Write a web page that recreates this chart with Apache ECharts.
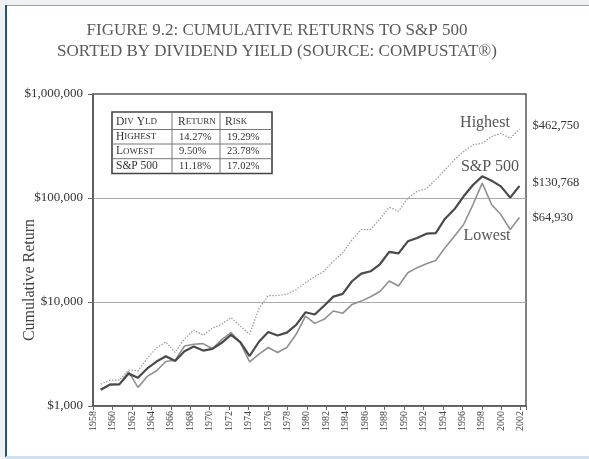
<!DOCTYPE html>
<html><head><meta charset="utf-8">
<script src="https://cdn.jsdelivr.net/npm/echarts@6/dist/echarts.min.js"></script>
<style>html,body{margin:0;padding:0;background:#edf1f4;}#c{width:589px;height:459px;}</style>
</head><body><div id="c"></div>
<script>
// ---- data ----
const years = [1958,1959,1960,1961,1962,1963,1964,1965,1966,1967,1968,1969,1970,1971,1972,1973,1974,1975,1976,1977,1978,1979,1980,1981,1982,1983,1984,1985,1986,1987,1988,1989,1990,1991,1992,1993,1994,1995,1996,1997,1998,1999,2000,2001,2002,2003];
const tickYears = [1958,1960,1962,1964,1966,1968,1970,1972,1974,1976,1978,1980,1982,1984,1986,1988,1990,1992,1994,1996,1998,2000,2002];
const highest = [1620,1770,1770,2220,2180,2880,3620,4130,3272,4420,5380,4800,5600,6100,7100,5860,4894,8600,11540,11540,11860,13190,15300,17500,19770,24600,29700,39600,49700,49700,63000,81400,74600,99900,116000,122900,150000,187000,233000,280000,324000,336000,389000,419000,375000,462750];
const lowest = [1440,1620,1620,2130,1510,1926,2180,2680,2750,3780,3925,3980,3550,4350,5080,4070,2655,3148,3650,3272,3650,4894,7330,6230,6812,8190,7780,9485,10200,11250,12600,15900,14250,19100,21400,23300,25100,33200,42900,55600,86500,139000,86500,69300,49800,64930];
const sp500 = [1434,1606,1614,2048,1870,2296,2675,3009,2705,3354,3726,3409,3546,4053,4823,4114,3024,4149,5137,4767,5081,6016,7965,7575,9196,11265,11975,15831,18760,19735,23050,30311,29371,38329,41242,45407,45997,63292,77849,103850,133551,161597,146892,129412,100812,130768];
const seriesNames = ['Highest','Lowest','S&P 500'];
const tableHeaders = ['Div Yld','Return','Risk'];
const tableNames = ['Highest','Lowest','S&P 500'];
const tableReturns = ['14.27%','9.50%','11.18%'];
const tableRisks = ['19.29%','23.78%','17.02%'];

// ---- helpers ----
const FONT = '"Liberation Serif","DejaVu Serif",serif';
const money = v => '$' + Math.round(v).toLocaleString('en-US');
function smallCaps(s){
  let out='', cur=null, buf='';
  for(const ch of s){
    const isLower = ch !== ch.toUpperCase();
    const k = isLower ? 's' : 'b';
    const c = isLower ? ch.toUpperCase() : ch;
    if(k!==cur){ if(buf) out += '{'+cur+'|'+buf+'}'; buf=''; cur=k; }
    buf += c;
  }
  if(buf) out += '{'+cur+'|'+buf+'}';
  return out;
}
const capsRich = {b:{fontSize:11.5,fontFamily:FONT,fill:'#333',color:'#333'}, s:{fontSize:9,fontFamily:FONT,fill:'#333',color:'#333'}};

// ---- table graphic ----
const colX = [112,172,220,272];
const rowY = [112,129.5,144,158.7,173.5];
const tbl = [];
tbl.push({type:'rect',shape:{x:colX[0],y:rowY[0],width:colX[3]-colX[0],height:rowY[4]-rowY[0]},style:{fill:'#fff',stroke:'#444',lineWidth:1.6},z:5});
for(let i=1;i<rowY.length-1;i++) tbl.push({type:'line',shape:{x1:colX[0],y1:rowY[i],x2:colX[3],y2:rowY[i]},style:{stroke:'#777',lineWidth:1},z:6});
for(let j=1;j<colX.length-1;j++) tbl.push({type:'line',shape:{x1:colX[j],y1:rowY[0],x2:colX[j],y2:rowY[4]},style:{stroke:'#777',lineWidth:1},z:6});
const txtX = [116,178,225];
function cell(text,x,y,rich){
  return {type:'text',x:x,y:y,z:7,style:{text:rich?smallCaps(text):text,rich:rich?capsRich:undefined,font:'10.5px '+FONT,fill:'#333',verticalAlign:'middle',align:'left'}};
}
tableHeaders.forEach((h,j)=>tbl.push(cell(h,txtX[j],(rowY[0]+rowY[1])/2+1,true)));
tableNames.forEach((n,i)=>{
  const cy=(rowY[i+1]+rowY[i+2])/2;
  tbl.push(cell(n,txtX[0],cy,true));
  tbl.push(cell(tableReturns[i],txtX[1]+1,cy,false));
  tbl.push(cell(tableRisks[i],txtX[2]+2,cy,false));
});

const chart = echarts.init(document.getElementById('c'),null,{renderer:'canvas'});
const mk = (vals)=>years.map((y,i)=>[y,vals[i]]);
const endLbl = {show:true,formatter:p=>money(p.value[1]),distance:13,offset:[0,-3],fontSize:12.5,fontFamily:FONT,color:'#333'};

chart.setOption({
  animation:false,
  backgroundColor:'transparent',
  title:{
    text:'FIGURE 9.2: CUMULATIVE RETURNS TO S&P 500\nSORTED BY DIVIDEND YIELD (SOURCE: COMPUSTAT®)',
    left:272, top:15, textAlign:'center',
    textStyle:{fontFamily:FONT,fontSize:17,fontWeight:'normal',color:'#5a5a5a',lineHeight:21}
  },
  grid:{left:93,right:63,top:94,bottom:53,show:true,borderColor:'#555',borderWidth:1.5,backgroundColor:'transparent'},
  xAxis:[
    {type:'value',min:1958,max:2002.55,interval:2,position:'bottom',
     axisLine:{show:true,lineStyle:{color:'#555',width:1.5}},
     axisTick:{show:true,length:4,lineStyle:{color:'#666'}},
     splitLine:{show:false},
     axisLabel:{rotate:90,margin:5,fontSize:10,fontFamily:FONT,color:'#444',
       formatter:v=>tickYears.indexOf(Math.round(v*100)/100)>=0?String(v):''}},
    {type:'value',min:1957.17,max:2003.7,show:false}
  ],
  yAxis:{type:'log',logBase:10,min:1000,max:1000000,
    axisLine:{show:true,lineStyle:{color:'#555',width:1.5}},
    axisTick:{show:true,length:5,lineStyle:{color:'#666'}},
    splitLine:{show:true,showMinLine:false,showMaxLine:false,lineStyle:{color:'#aaa',width:1}},
    minorTick:{show:false},
    axisLabel:{margin:10,fontSize:13,fontFamily:FONT,color:'#333',formatter:v=>money(v)}},
  series:[
    {name:seriesNames[0],type:'line',xAxisIndex:1,data:mk(highest),symbol:'none',
     lineStyle:{color:'#9a9a9a',width:1.2,type:[1.5,1.5]},endLabel:endLbl,z:3},
    {name:seriesNames[1],type:'line',xAxisIndex:1,data:mk(lowest),symbol:'none',
     lineStyle:{color:'#909090',width:1.6},endLabel:Object.assign({},endLbl,{offset:[0,0]}),z:3},
    {name:seriesNames[2],type:'line',xAxisIndex:1,data:mk(sp500),symbol:'none',
     lineStyle:{color:'#4a4a4a',width:2.2},endLabel:endLbl,z:4}
  ],
  graphic:[
    {type:'rect',shape:{x:6,y:5,width:583,height:452},style:{fill:'#fff'},z:-10,silent:true},
    {type:'rect',shape:{x:6,y:5,width:583,height:1},style:{fill:'#8fa3b5'},z:-9,silent:true},
    {type:'rect',shape:{x:5,y:5,width:2,height:452},style:{fill:'#2b5176'},z:-9,silent:true},
    {type:'rect',shape:{x:6,y:456,width:583,height:3},style:{fill:'#cfe0ec'},z:-9,silent:true},
    {type:'text',x:30,y:280,rotation:Math.PI/2,style:{text:'Cumulative Return',font:'16px '+FONT,fill:'#444',align:'center',verticalAlign:'middle'},z:5},
    {type:'text',x:485,y:123,style:{text:seriesNames[0],font:'16px '+FONT,fill:'#555',align:'center',verticalAlign:'middle'},z:8},
    {type:'text',x:490,y:167,style:{text:seriesNames[2],font:'16px '+FONT,fill:'#555',align:'center',verticalAlign:'middle'},z:8},
    {type:'text',x:487,y:236,style:{text:seriesNames[1],font:'16px '+FONT,fill:'#555',align:'center',verticalAlign:'middle'},z:8},
    {type:'group',children:tbl}
  ]
});
</script></body></html>
